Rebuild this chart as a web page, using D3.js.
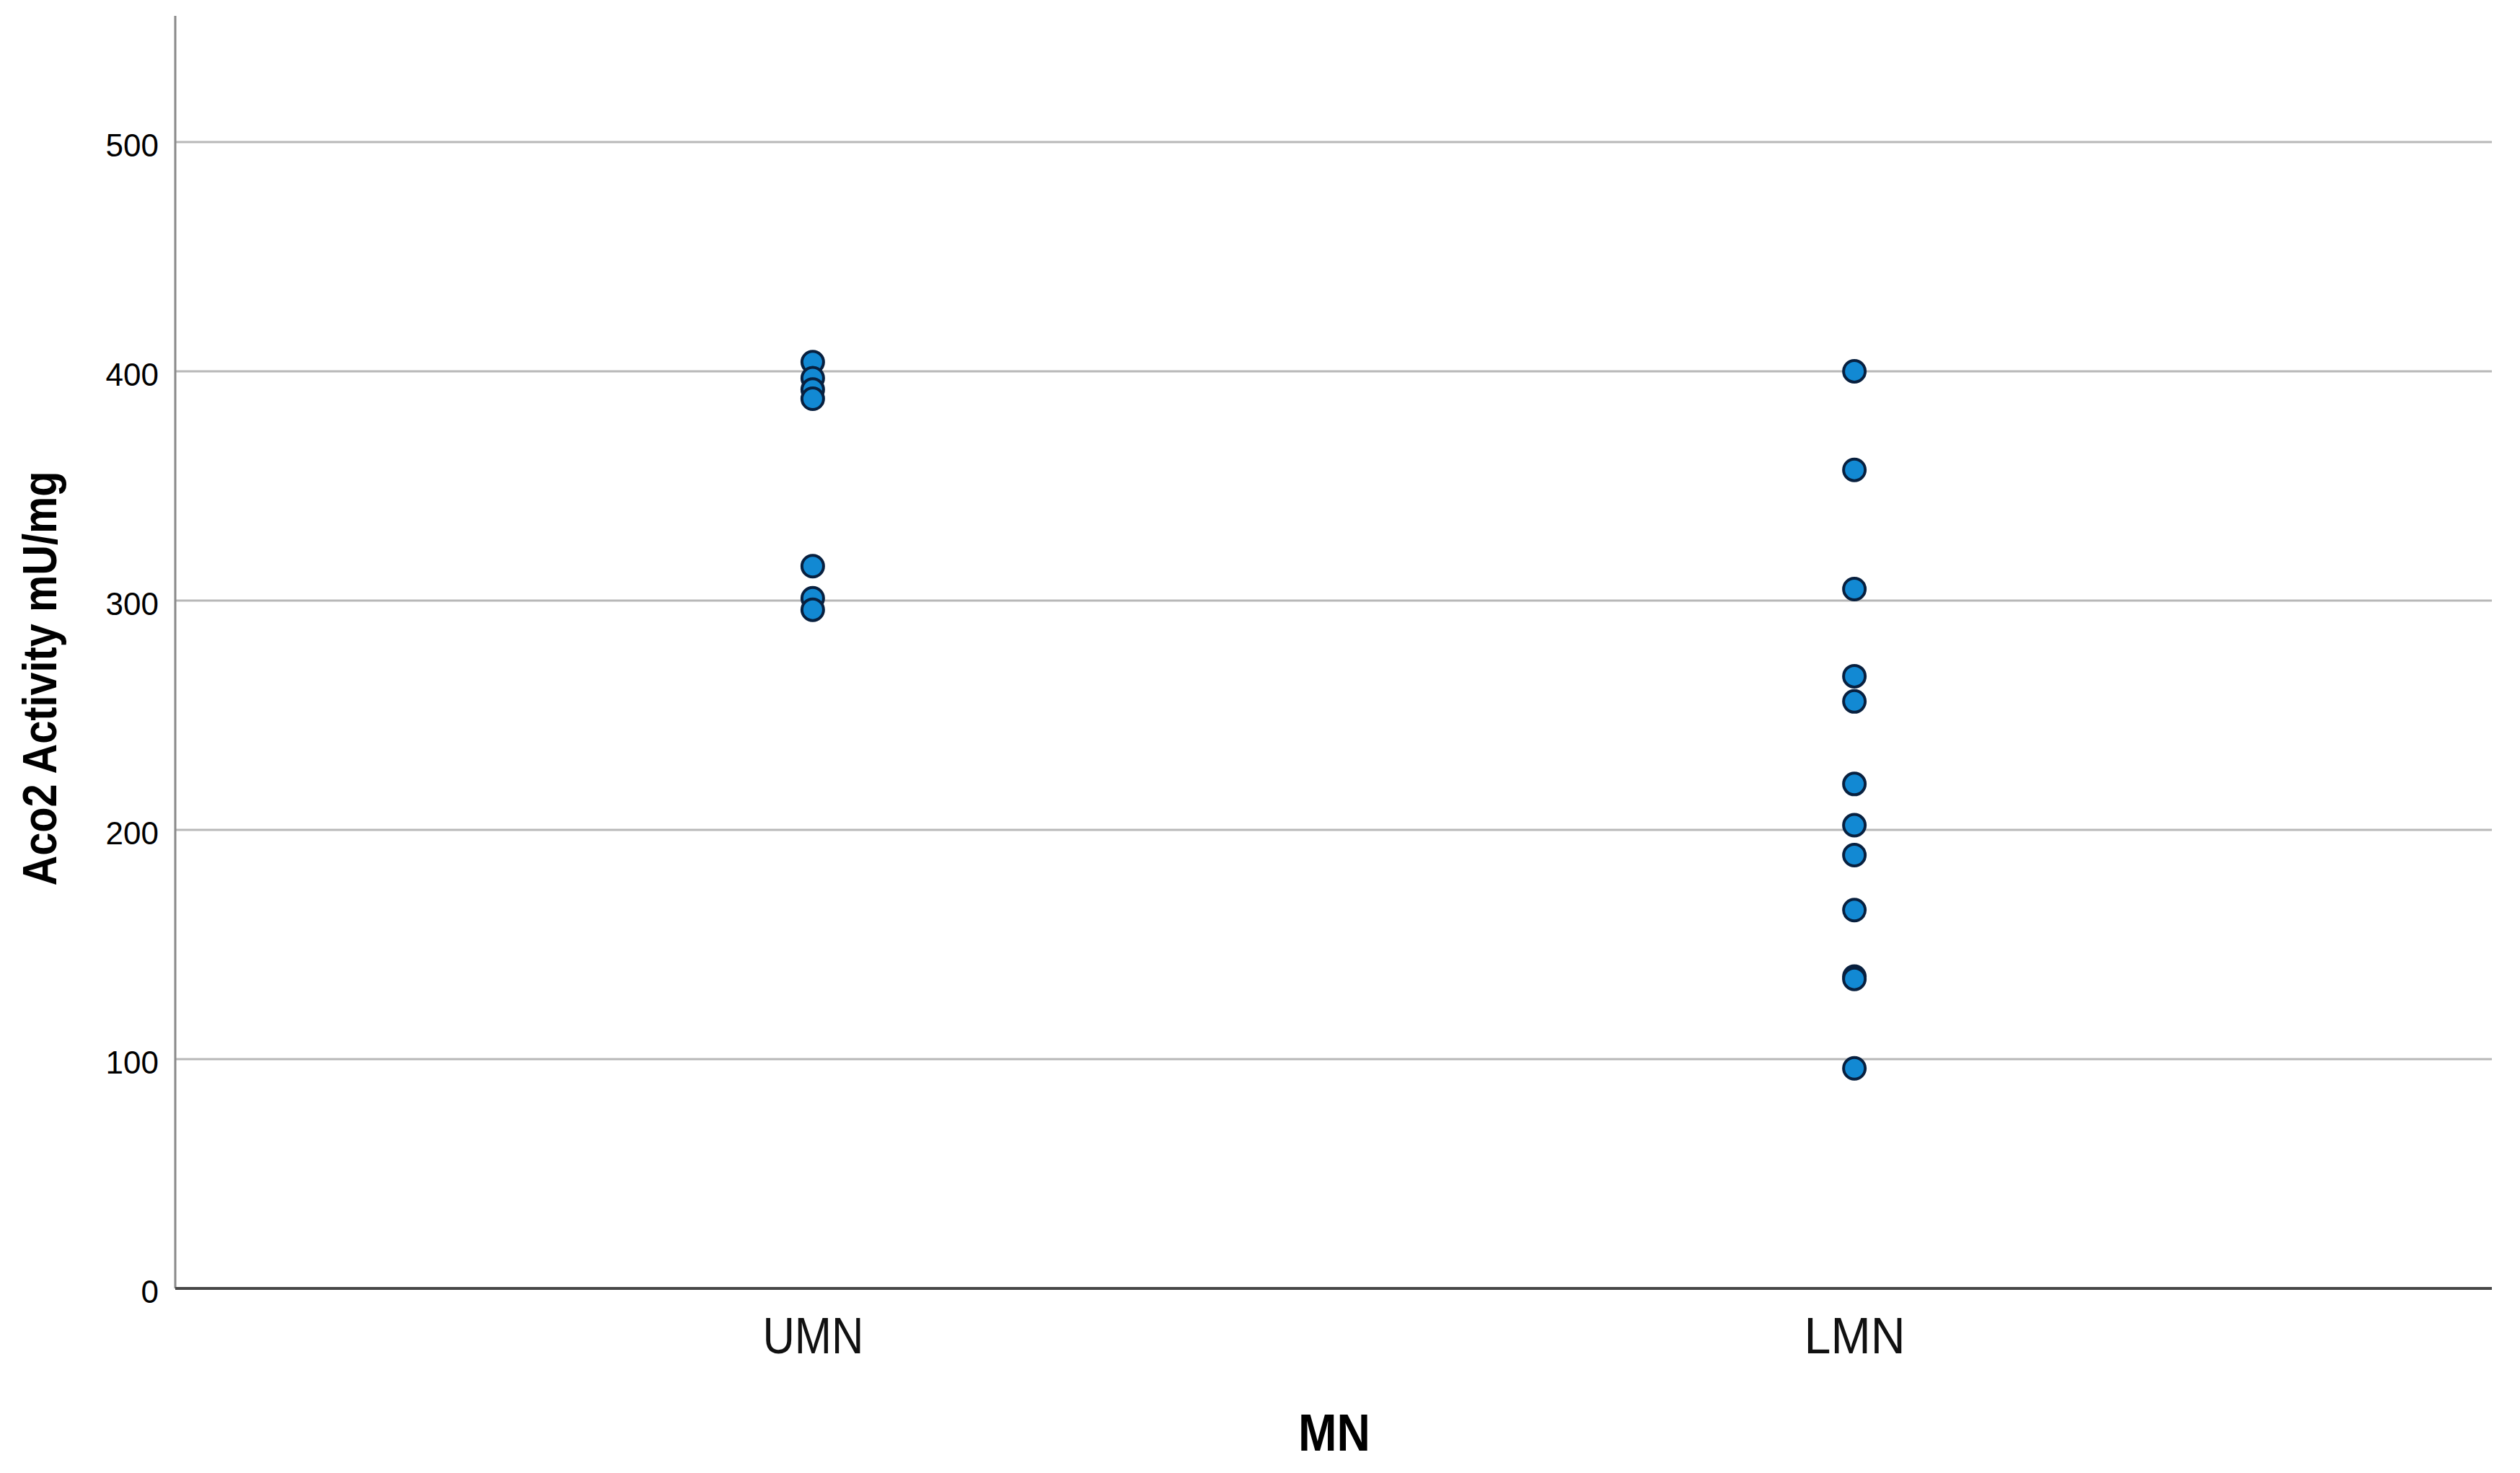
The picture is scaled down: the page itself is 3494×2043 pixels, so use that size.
<!DOCTYPE html>
<html lang="en">
<head>
<meta charset="utf-8">
<title>Aco2 Activity by MN</title>
<script src="https://d3js.org/d3.v7.min.js"></script>
<style>
  body { margin: 0; background: #fff; }
  text { font-family: "Liberation Sans", Arial, sans-serif; }
</style>
</head>
<body>
<script>
// data
var groups = ["UMN", "LMN"];
var umnValues = [404, 397, 392, 388, 315, 301, 296];
var lmnValues = [400, 357, 305, 267, 256, 220, 202, 189, 165, 136, 135, 96];
var yTicks = [0, 100, 200, 300, 400, 500];

var width = 3494, height = 2043;
var margin = {top: 22, right: 39, bottom: 256, left: 243};

var svg = d3.select("body").append("svg")
    .attr("width", width)
    .attr("height", height);

var x = d3.scalePoint()
    .domain(groups)
    .range([margin.left, width - margin.right])
    .padding(0.612);

var y = d3.scaleLinear()
    .domain([0, 555])
    .range([height - margin.bottom, margin.top]);

var points = umnValues.map(function(v) { return {g: "UMN", v: v}; })
    .concat(lmnValues.map(function(v) { return {g: "LMN", v: v}; }));

// gridlines
svg.append("g")
    .selectAll("line")
    .data(yTicks.filter(function(d) { return d > 0; }))
    .enter().append("line")
      .attr("x1", margin.left)
      .attr("x2", width - margin.right)
      .attr("y1", function(d) { return y(d); })
      .attr("y2", function(d) { return y(d); })
      .attr("stroke", "#b8b8b8")
      .attr("stroke-width", 3);

// y tick labels
var yAxis = svg.append("g")
    .attr("transform", "translate(" + (margin.left - 1) + ",0)")
    .call(d3.axisLeft(y).tickValues(yTicks).tickSize(0).tickPadding(22));
yAxis.select(".domain").remove();
yAxis.selectAll("text")
    .attr("font-family", "'Liberation Sans', Arial, sans-serif")
    .attr("font-size", 44)
    .attr("fill", "#000")
    .attr("dy", "0.45em");

// axis lines
svg.append("line")
    .attr("x1", margin.left).attr("x2", margin.left)
    .attr("y1", margin.top).attr("y2", y(0))
    .attr("stroke", "#8a8a8a")
    .attr("stroke-width", 3);

svg.append("line")
    .attr("x1", margin.left).attr("x2", width - margin.right)
    .attr("y1", y(0)).attr("y2", y(0))
    .attr("stroke", "#474747")
    .attr("stroke-width", 4);

// x category labels
var xAxis = svg.append("g")
    .attr("transform", "translate(0," + y(0) + ")")
    .call(d3.axisBottom(x).tickSize(0).tickPadding(40));
xAxis.select(".domain").remove();
xAxis.selectAll("text")
    .attr("font-family", "'Liberation Sans', Arial, sans-serif")
    .attr("font-size", 70)
    .attr("fill", "#111")
    .attr("textLength", 140)
    .attr("lengthAdjust", "spacingAndGlyphs")
    .attr("dy", "0.71em");

// points
svg.append("g")
    .selectAll("circle")
    .data(points)
    .enter().append("circle")
      .attr("cx", function(d) { return x(d.g); })
      .attr("cy", function(d) { return y(d.v); })
      .attr("r", 15)
      .attr("fill", "#1289d3")
      .attr("stroke", "#08203f")
      .attr("stroke-width", 4);

// axis titles
svg.append("text")
    .attr("transform", "translate(78,941) rotate(-90)")
    .attr("text-anchor", "middle")
    .attr("font-size", 66)
    .attr("font-weight", "bold")
    .attr("textLength", 575)
    .attr("lengthAdjust", "spacingAndGlyphs")
    .text("Aco2 Activity mU/mg");

svg.append("text")
    .attr("x", 1850)
    .attr("y", 2012)
    .attr("text-anchor", "middle")
    .attr("font-size", 72)
    .attr("font-weight", "bold")
    .attr("textLength", 100)
    .attr("lengthAdjust", "spacingAndGlyphs")
    .text("MN");
</script>
</body>
</html>
